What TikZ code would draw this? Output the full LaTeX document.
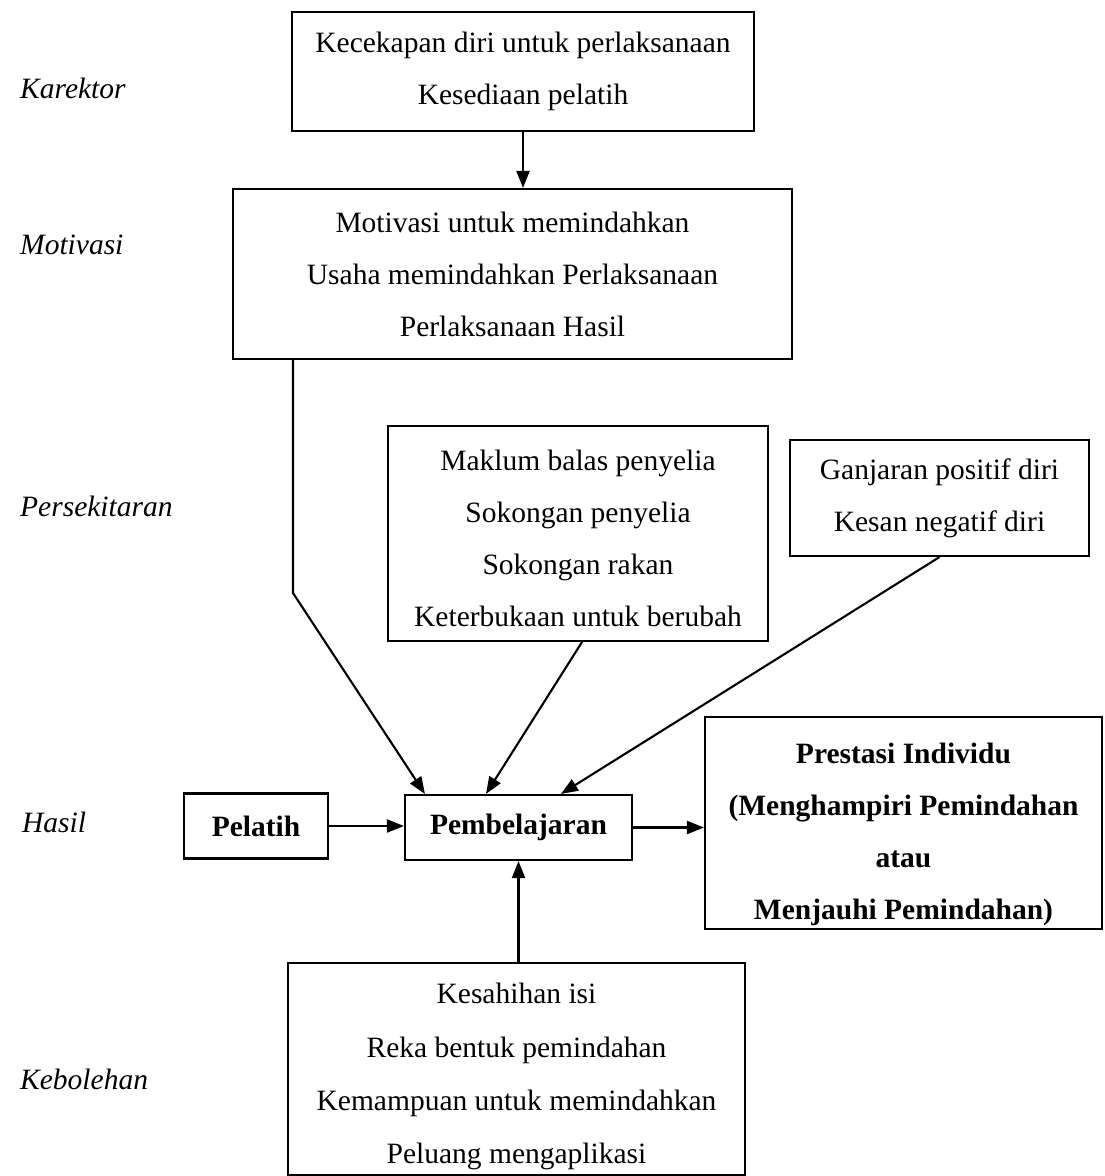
\documentclass[tikz,border=0pt]{standalone}
\usepackage{fontspec}
\setmainfont{Liberation Serif}
\usetikzlibrary{arrows.meta}
\newcommand{\myrule}[1]{\rule{0pt}{#1}}
\begin{document}
\begin{tikzpicture}[x=1pt,y=-1pt,
  box/.style={draw, line width=2.1pt, inner sep=0pt, align=center, font=\fontsize{29.5}{52}\selectfont},
  bbox/.style={box, font=\fontsize{29.5}{52}\selectfont\bfseries},
  lab/.style={anchor=west, inner sep=0pt, font=\fontsize{29.5}{35}\selectfont\itshape},
  arr/.style={line width=2.1pt, -{Triangle[length=17pt,width=13pt]}}]
\useasboundingbox (0,0) rectangle (1104,1176);

% side labels
\node[lab] (lk) at (20,88) {Karektor};
\node[lab] (lm) at (20,245) {Motivasi};
\node[lab] (lp) at (20,506) {Persekitaran};
\node[lab] (lh) at (22,822) {Hasil};
\node[lab] (lb) at (20,1079) {Kebolehan};

% boxes
\node[box, minimum width=462pt, minimum height=119pt] (kar) at (523,71.5)
  {Kecekapan diri untuk perlaksanaan\\Kesediaan pelatih};
\node[box, minimum width=559pt, minimum height=170pt] (mot) at (512.5,274)
  {Motivasi untuk memindahkan\\Usaha memindahkan Perlaksanaan\\Perlaksanaan Hasil};
\node[box, minimum width=380pt, minimum height=215pt] (env) at (578,533.5)
  {\myrule{31pt}Maklum balas penyelia\\Sokongan penyelia\\Sokongan rakan\\Keterbukaan untuk berubah};
\node[box, minimum width=299pt, minimum height=116pt] (self) at (939.5,498)
  {Ganjaran positif diri\\Kesan negatif diri};
\node[bbox, minimum width=144pt, minimum height=65pt] (pel) at (256,826)
  {Pelatih};
\node[bbox, minimum width=227pt, minimum height=65pt] (pemb) at (518.5,827.5)
  {Pembelajaran};
\node[bbox, minimum width=397pt, minimum height=212pt] (pres) at (903.5,823)
  {\myrule{43pt}Prestasi Individu\\(Menghampiri Pemindahan\\atau\\Menjauhi Pemindahan)};
\node[box, minimum width=457pt, minimum height=212pt, font=\fontsize{29.5}{53.3}\selectfont] (keb) at (516.5,1069)
  {\myrule{36pt}Kesahihan isi\\Reka bentuk pemindahan\\Kemampuan untuk memindahkan\\Peluang mengaplikasi};

% connectors
\coordinate (mbend) at (293,593);
\draw[arr] (kar.south) -- (kar.south |- mot.north);
\draw[arr] (mot.south -| mbend) -- (mbend) -- ([xshift=21pt]pemb.north west);
\draw[arr] ([xshift=4pt]env.south) -- ([xshift=82pt]pemb.north west);
\draw[arr] (self.south) -- ([xshift=157pt]pemb.north west);
\draw[arr] (pel.east) -- (pel.east -| pemb.west);
\draw[arr] (pemb.east) -- (pemb.east -| pres.west);
\draw[arr] (pemb.south |- keb.north) -- (pemb.south);
\end{tikzpicture}
\end{document}
